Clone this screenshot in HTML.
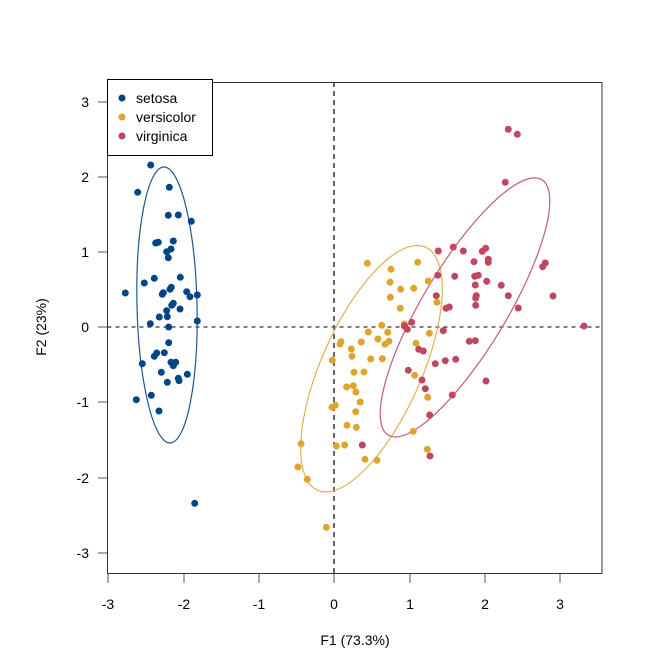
<!DOCTYPE html>
<html><head><meta charset="utf-8"><style>html,body{margin:0;padding:0;background:#fff}svg{display:block}</style></head>
<body>
<svg width="672" height="672" viewBox="0 0 672 672" xmlns="http://www.w3.org/2000/svg" font-family="Liberation Sans, sans-serif">
<rect width="672" height="672" fill="#fff"/>
<line x1="107.5" y1="327" x2="602" y2="327" stroke="#000" stroke-width="1" stroke-dasharray="4,4"/>
<line x1="334" y1="82" x2="334" y2="573" stroke="#666" stroke-width="2" stroke-dasharray="5,4"/>
<ellipse cx="167" cy="305" rx="30" ry="138" transform="rotate(-1.3 167 305)" fill="none" stroke="#1f5795" stroke-width="1.2"/>
<ellipse cx="371.5" cy="368.7" rx="50" ry="133" transform="rotate(24 371.5 368.7)" fill="none" stroke="#e2b14f" stroke-width="1.2"/>
<ellipse cx="465" cy="307.4" rx="42" ry="149" transform="rotate(31 465 307.4)" fill="none" stroke="#c35d73" stroke-width="1.2"/>
<g fill="#004586">
<circle cx="150.7" cy="165" r="3.5"/><circle cx="137.7" cy="192.3" r="3.5"/><circle cx="169.3" cy="187.3" r="3.5"/><circle cx="168.3" cy="215.3" r="3.5"/><circle cx="178.3" cy="215" r="3.5"/><circle cx="191.3" cy="221.3" r="3.5"/><circle cx="155.7" cy="243" r="3.5"/><circle cx="158.3" cy="242.3" r="3.5"/><circle cx="173.3" cy="241" r="3.5"/><circle cx="166.7" cy="251.7" r="3.5"/><circle cx="171" cy="249" r="3.5"/><circle cx="168.3" cy="257.7" r="3.5"/><circle cx="154.3" cy="278.3" r="3.5"/><circle cx="144.3" cy="283" r="3.5"/><circle cx="180.3" cy="277.3" r="3.5"/><circle cx="125.3" cy="293" r="3.5"/><circle cx="163.3" cy="292.7" r="3.5"/><circle cx="162.3" cy="294.3" r="3.5"/><circle cx="170" cy="289.3" r="3.5"/><circle cx="171.3" cy="287.3" r="3.5"/><circle cx="186.7" cy="291.7" r="3.5"/><circle cx="190" cy="296.7" r="3.5"/><circle cx="197.3" cy="295" r="3.5"/><circle cx="173.3" cy="303.3" r="3.5"/><circle cx="171.7" cy="305.3" r="3.5"/><circle cx="166.7" cy="310.7" r="3.5"/><circle cx="180" cy="309" r="3.5"/><circle cx="159.3" cy="317" r="3.5"/><circle cx="167.3" cy="316.7" r="3.5"/><circle cx="150.3" cy="323.7" r="3.5"/><circle cx="197.3" cy="321" r="3.5"/><circle cx="168.7" cy="327" r="3.5"/><circle cx="168.7" cy="342.7" r="3.5"/><circle cx="156.7" cy="353" r="3.5"/><circle cx="154.3" cy="356.3" r="3.5"/><circle cx="164.3" cy="352.7" r="3.5"/><circle cx="142.3" cy="363.7" r="3.5"/><circle cx="171" cy="362.3" r="3.5"/><circle cx="175.7" cy="362.3" r="3.5"/><circle cx="173.3" cy="365.7" r="3.5"/><circle cx="161.3" cy="372.3" r="3.5"/><circle cx="178.3" cy="378.3" r="3.5"/><circle cx="179" cy="380.7" r="3.5"/><circle cx="187.3" cy="374.3" r="3.5"/><circle cx="167.3" cy="382.3" r="3.5"/><circle cx="151.3" cy="395.3" r="3.5"/><circle cx="136.3" cy="399.7" r="3.5"/><circle cx="159" cy="411" r="3.5"/><circle cx="194.7" cy="503.3" r="3.5"/>
</g>
<g fill="#dea52c">
<circle cx="367.3" cy="263.3" r="3.5"/><circle cx="391" cy="269.3" r="3.5"/><circle cx="417.7" cy="262.3" r="3.5"/><circle cx="390" cy="282.3" r="3.5"/><circle cx="400.7" cy="289.3" r="3.5"/><circle cx="413.7" cy="288.3" r="3.5"/><circle cx="428.3" cy="281" r="3.5"/><circle cx="390.3" cy="297.3" r="3.5"/><circle cx="437" cy="302.3" r="3.5"/><circle cx="400.3" cy="308.3" r="3.5"/><circle cx="381.7" cy="325.3" r="3.5"/><circle cx="387.7" cy="332.3" r="3.5"/><circle cx="368.3" cy="332" r="3.5"/><circle cx="429.3" cy="333.3" r="3.5"/><circle cx="341" cy="341.7" r="3.5"/><circle cx="340" cy="344" r="3.5"/><circle cx="361.3" cy="342" r="3.5"/><circle cx="378" cy="339" r="3.5"/><circle cx="389" cy="341.3" r="3.5"/><circle cx="385" cy="344.3" r="3.5"/><circle cx="351.3" cy="349" r="3.5"/><circle cx="352" cy="356.3" r="3.5"/><circle cx="332.3" cy="360.3" r="3.5"/><circle cx="370.7" cy="359" r="3.5"/><circle cx="382.3" cy="358.7" r="3.5"/><circle cx="416" cy="343.3" r="3.5"/><circle cx="354" cy="372.3" r="3.5"/><circle cx="364" cy="372" r="3.5"/><circle cx="414.7" cy="375.3" r="3.5"/><circle cx="346.7" cy="387" r="3.5"/><circle cx="353.3" cy="385.7" r="3.5"/><circle cx="356" cy="392" r="3.5"/><circle cx="360.3" cy="402" r="3.5"/><circle cx="427.7" cy="397.3" r="3.5"/><circle cx="332" cy="407.3" r="3.5"/><circle cx="335.3" cy="405.3" r="3.5"/><circle cx="355.7" cy="411.7" r="3.5"/><circle cx="347" cy="425.3" r="3.5"/><circle cx="356.3" cy="427.3" r="3.5"/><circle cx="413.3" cy="431.3" r="3.5"/><circle cx="301" cy="443.7" r="3.5"/><circle cx="336.3" cy="446" r="3.5"/><circle cx="344.7" cy="445" r="3.5"/><circle cx="427.3" cy="449.3" r="3.5"/><circle cx="365" cy="459.3" r="3.5"/><circle cx="377" cy="460.3" r="3.5"/><circle cx="298" cy="467" r="3.5"/><circle cx="307.3" cy="479.3" r="3.5"/><circle cx="326.3" cy="527.3" r="3.5"/><circle cx="404.3" cy="324" r="3.5"/>
</g>
<g fill="#c0475e">
<circle cx="508.3" cy="129.3" r="3.5"/><circle cx="517.3" cy="134.3" r="3.5"/><circle cx="505.3" cy="182.3" r="3.5"/><circle cx="438.3" cy="251" r="3.5"/><circle cx="453.3" cy="247" r="3.5"/><circle cx="463.3" cy="251" r="3.5"/><circle cx="482.3" cy="251.3" r="3.5"/><circle cx="485.7" cy="248.3" r="3.5"/><circle cx="474" cy="261.7" r="3.5"/><circle cx="488.3" cy="259.3" r="3.5"/><circle cx="488.3" cy="262.3" r="3.5"/><circle cx="542.7" cy="266.7" r="3.5"/><circle cx="545.3" cy="263" r="3.5"/><circle cx="437.7" cy="275.3" r="3.5"/><circle cx="454.7" cy="276.3" r="3.5"/><circle cx="474.7" cy="276.3" r="3.5"/><circle cx="478.3" cy="275.3" r="3.5"/><circle cx="486.7" cy="281.3" r="3.5"/><circle cx="475.3" cy="285" r="3.5"/><circle cx="501.3" cy="285.3" r="3.5"/><circle cx="436.3" cy="295.7" r="3.5"/><circle cx="476.3" cy="295.7" r="3.5"/><circle cx="475.7" cy="298" r="3.5"/><circle cx="508.3" cy="295.7" r="3.5"/><circle cx="553" cy="296" r="3.5"/><circle cx="446" cy="308.3" r="3.5"/><circle cx="449.3" cy="307" r="3.5"/><circle cx="475.7" cy="305.3" r="3.5"/><circle cx="518.3" cy="308" r="3.5"/><circle cx="411.7" cy="322.3" r="3.5"/><circle cx="404.3" cy="326" r="3.5"/><circle cx="407.3" cy="329.3" r="3.5"/><circle cx="443.3" cy="330.7" r="3.5"/><circle cx="584" cy="326" r="3.5"/><circle cx="469.3" cy="341.3" r="3.5"/><circle cx="475.3" cy="340.7" r="3.5"/><circle cx="418.7" cy="349.3" r="3.5"/><circle cx="423.3" cy="351" r="3.5"/><circle cx="435.3" cy="363.7" r="3.5"/><circle cx="445.3" cy="360.7" r="3.5"/><circle cx="455.7" cy="359.3" r="3.5"/><circle cx="408.3" cy="370.3" r="3.5"/><circle cx="422" cy="380" r="3.5"/><circle cx="486" cy="381" r="3.5"/><circle cx="425.3" cy="388.7" r="3.5"/><circle cx="452.3" cy="395" r="3.5"/><circle cx="429.7" cy="415" r="3.5"/><circle cx="430" cy="456" r="3.5"/><circle cx="362.3" cy="445" r="3.5"/>
</g>
<rect x="107.5" y="82.5" width="494.5" height="491" fill="none" stroke="#333" stroke-width="1"/>
<g stroke="#555" stroke-width="1">
<line x1="108" y1="574" x2="108" y2="583"/><line x1="184" y1="574" x2="184" y2="583"/><line x1="259" y1="574" x2="259" y2="583"/><line x1="334" y1="574" x2="334" y2="583"/><line x1="410" y1="574" x2="410" y2="583"/><line x1="485" y1="574" x2="485" y2="583"/><line x1="560" y1="574" x2="560" y2="583"/>
<line x1="98" y1="102" x2="107" y2="102"/><line x1="98" y1="177" x2="107" y2="177"/><line x1="98" y1="252" x2="107" y2="252"/><line x1="98" y1="327" x2="107" y2="327"/><line x1="98" y1="402" x2="107" y2="402"/><line x1="98" y1="478" x2="107" y2="478"/><line x1="98" y1="553" x2="107" y2="553"/>
</g>
<g font-size="14" fill="#000" text-anchor="middle">
<text x="108" y="609">-3</text><text x="184" y="609">-2</text><text x="259" y="609">-1</text><text x="334" y="609">0</text><text x="410" y="609">1</text><text x="485" y="609">2</text><text x="560" y="609">3</text>
</g>
<g font-size="14" fill="#000" text-anchor="end">
<text x="89" y="107">3</text><text x="89" y="182">2</text><text x="89" y="257">1</text><text x="89" y="332">0</text><text x="89" y="407">-1</text><text x="89" y="483">-2</text><text x="89" y="558">-3</text>
</g>
<text x="355" y="645" font-size="14" text-anchor="middle">F1 (73.3%)</text>
<text transform="translate(46 327) rotate(-90)" font-size="14" text-anchor="middle">F2 (23%)</text>
<rect x="107.5" y="79.5" width="105" height="76" fill="#fff" stroke="#000" stroke-width="1"/>
<circle cx="122" cy="98" r="3.5" fill="#004586"/>
<circle cx="122" cy="117" r="3.5" fill="#dea52c"/>
<circle cx="122" cy="136" r="3.5" fill="#c0475e"/>
<g font-size="14" fill="#000">
<text x="136" y="103">setosa</text><text x="136" y="122">versicolor</text><text x="136" y="141">virginica</text>
</g>
</svg>
</body></html>
